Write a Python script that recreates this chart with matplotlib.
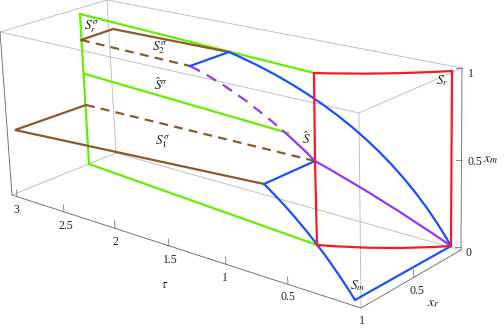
import matplotlib
matplotlib.use("Agg")
import matplotlib.pyplot as plt
from matplotlib.path import Path
from matplotlib.patches import PathPatch

plt.rcParams['font.family'] = ['Liberation Serif', 'DejaVu Serif']
plt.rcParams['mathtext.fontset'] = 'stix'

# Polylines (picture pixel scale)
box_back = [[(0, 32), (107, 0), (462, 68)], [(107, 0), (116, 153)],
            [(12, 195), (116, 153), (461, 250)]]
box_front = [[(0, 32), (359, 113), (462, 68)], [(359, 113), (361, 308)]]
box_axes = [[(0, 32), (12, 195), (361, 308), (461, 250), (462, 68)]]

green_outer = [(80, 14), (314, 73)]
green_left = [(80, 14), (89, 164)]
green_mid = [(85, 74), (288, 133)]
green_low = [(89, 164), (317, 245)]

brown_s2 = [(81, 40), (113, 29), (229, 52)]
brown_s2_dash = [(81, 40), (190, 66)]
brown_s1 = [(86, 105), (15, 130), (264, 184)]
brown_s1_dash = [(86, 105), (315, 161)]

blue_edges = [[(190, 66), (229, 52)], [(315, 161), (264, 184)], [(355, 300), (451, 246)]]
# Curves: start, bend, end
blue_top = [(229, 52), (378, 117), (451, 246)]
blue_low = [(264, 184), (314.5, 234), (355, 300)]
purple_dash = [(190, 66), (233, 87), (282, 130)]
purple_mid = [(282, 130), (297.5, 143), (315, 161)]
purple_low = [(315, 161), (383, 199), (451, 246)]
red_top = [(314, 73), (383, 75), (452, 71)]
red_bottom = [(317, 245), (385, 250.5), (451, 246)]
red_sides = [[(314, 73), (315, 161), (317, 245)], [(452, 71), (451, 246)]]

tau_ticks = [(17, 197), (64, 212), (115, 228), (169, 246), (226, 264), (288, 284)]
xr_tick = [(414, 277)]
xm_ticks = [(456, 68), (456, 160), (455, 247)]

number_labels = [("3", 16, 210), ("2.5", 66, 226), ("2", 115, 242), ("1.5", 170, 260),
                 ("1", 225, 278), ("0.5", 288, 297), ("1", 362, 321), ("0.5", 417, 291),
                 ("0", 468, 253), ("0.5", 475, 162), ("1", 471, 74)]
symbol_labels = [(r"$\tau$", 165, 285, 9), (r"$x_r$", 433, 304, 10), (r"$x_m$", 491, 160, 10),
                 (r"$S_r^{\sigma}$", 92, 27, 9.5), (r"$S_2^{\sigma}$", 160, 48, 9.5),
                 (r"$\hat{S}^{\sigma}$", 161, 85, 9.5), (r"$S_1^{\sigma}$", 163, 142, 9.5),
                 (r"$\hat{S}$", 306, 139, 9.5), (r"$S_r$", 442, 81, 9.5), (r"$S_m$", 358, 286, 9.5)]

GREY, DARK = "#bdbdbd", "#777777"
GREEN, BROWN, BLUE, PURPLE, RED = "#66ee00", "#8b5a2b", "#1a50ff", "#9933ff", "#ff1528"
LW = 1.6


def draw(ax, pts, **kw):
    ax.plot([p[0] for p in pts], [p[1] for p in pts], solid_joinstyle="miter", **kw)


def curve(ax, pts, color, zorder, dashes=None):
    patch = PathPatch(Path(pts, [Path.MOVETO, Path.CURVE3, Path.CURVE3]), fill=False,
                      edgecolor=color, lw=LW, zorder=zorder, capstyle="butt")
    if dashes:
        patch.set_linestyle((0, dashes))
    ax.add_patch(patch)


fig = plt.figure(figsize=(5.04, 3.28), dpi=100)
ax = fig.add_axes([0, 0, 1, 1])
ax.set_xlim(0, 504)
ax.set_ylim(328, 0)
ax.axis("off")

for seg in box_back + box_front:
    draw(ax, seg, color=GREY, lw=0.65, zorder=1)
for seg in box_axes:
    draw(ax, seg, color=DARK, lw=0.7, zorder=1)
for x, y in tau_ticks:
    ax.plot([x, x - 0.5], [y, y - 7], color=DARK, lw=0.6, zorder=1)
for x, y in xr_tick:
    ax.plot([x, x - 0.5], [y, y - 7], color=DARK, lw=0.6, zorder=1)
for x, y in xm_ticks:
    ax.plot([x, x + 6], [y, y], color=DARK, lw=0.6, zorder=1)

for seg in (green_outer, green_left, green_mid, green_low):
    draw(ax, seg, color=GREEN, lw=LW, zorder=2)
draw(ax, brown_s2, color=BROWN, lw=LW, zorder=3)
draw(ax, brown_s1, color=BROWN, lw=LW, zorder=3)
for seg in (brown_s2_dash, brown_s1_dash):
    draw(ax, seg, color=BROWN, lw=LW, zorder=3, dashes=(4, 2.8))
curve(ax, purple_dash, PURPLE, 3, dashes=(5, 3.5))
curve(ax, purple_mid, PURPLE, 3)
curve(ax, purple_low, PURPLE, 3)
for seg in blue_edges:
    draw(ax, seg, color=BLUE, lw=LW, zorder=4)
curve(ax, blue_top, BLUE, 4)
curve(ax, blue_low, BLUE, 4)
curve(ax, red_top, RED, 5)
curve(ax, red_bottom, RED, 5)
for seg in red_sides:
    draw(ax, seg, color=RED, lw=LW, zorder=5)

for s, x, y in number_labels:
    ax.text(x, y, s, fontsize=8.5, color="#222222", ha="center", va="center", zorder=6)
for s, x, y, fs in symbol_labels:
    ax.text(x, y, s, fontsize=fs, color="#222222", ha="center", va="center", zorder=6)

fig.savefig("out.png", dpi=100)
